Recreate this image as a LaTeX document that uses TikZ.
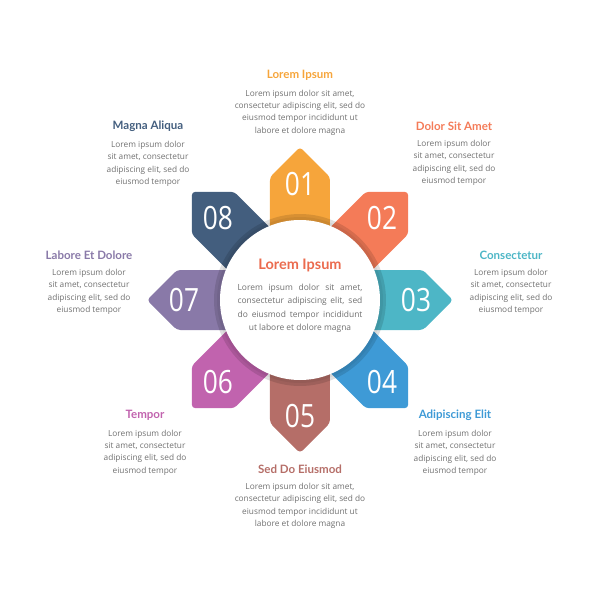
\documentclass[tikz,border=0pt]{standalone}
\usepackage{fontspec}
\setmainfont{Open Sans}
\newfontfamily\headfont{Lato}
\usepackage{tikz}
\usepackage{xcolor}
\usetikzlibrary{calc,positioning}

\definecolor{cone}{HTML}{F6A53B}
\definecolor{ctwo}{HTML}{F47B58}
\definecolor{cthree}{HTML}{4DB6C6}
\definecolor{cfour}{HTML}{3E9AD6}
\definecolor{cfive}{HTML}{B56E68}
\definecolor{csix}{HTML}{C163AE}
\definecolor{cseven}{HTML}{8979A8}
\definecolor{ceight}{HTML}{435E7E}
\definecolor{ccenter}{HTML}{EB6B4E}
\definecolor{bodygray}{HTML}{707070}

\tikzset{
  petal/.style={rounded corners=2.5},
  numlabel/.style={text=white, inner sep=0, font=\fontsize{22.8}{24}\selectfont},
  headline/.style={inner sep=0, font=\headfont\bfseries\fontsize{8.2}{9}\selectfont},
  bodytext/.style={inner sep=0, text=bodygray, align=center, font=\fontsize{5.9}{8.8}\selectfont},
}

\begin{document}
\begin{tikzpicture}[x=0.025cm, y=0.025cm]
\useasboundingbox (-300,-300) rectangle (300,300);
% petals
\fill[petal, cone, rotate=0] (-30,60) -- (-30,123) -- (0,153) -- (30,123) -- (30,60) -- cycle;
\fill[petal, ctwo, rotate=-45] (-30,60) -- (-30,123) -- (0,153) -- (30,123) -- (30,60) -- cycle;
\fill[petal, cthree, rotate=-90] (-30,60) -- (-30,123) -- (0,153) -- (30,123) -- (30,60) -- cycle;
\fill[petal, cfour, rotate=-135] (-30,60) -- (-30,123) -- (0,153) -- (30,123) -- (30,60) -- cycle;
\fill[petal, cfive, rotate=180] (-30,60) -- (-30,123) -- (0,153) -- (30,123) -- (30,60) -- cycle;
\fill[petal, csix, rotate=135] (-30,60) -- (-30,123) -- (0,153) -- (30,123) -- (30,60) -- cycle;
\fill[petal, cseven, rotate=90] (-30,60) -- (-30,123) -- (0,153) -- (30,123) -- (30,60) -- cycle;
\fill[petal, ceight, rotate=45] (-30,60) -- (-30,123) -- (0,153) -- (30,123) -- (30,60) -- cycle;
% center circle with its shadow ring
\fill[black, opacity=0.12] (0,0) circle (86);
\fill[black, opacity=0.05] (0,0) circle (83);
\fill[white] (0,0) circle (80);
% numbers
\node[numlabel] (n01) at (90:116) {\scalebox{0.82}[1]{01}};
\node[numlabel] (n02) at (45:116) {\scalebox{0.82}[1]{02}};
\node[numlabel] (n03) at (0:116) {\scalebox{0.82}[1]{03}};
\node[numlabel] (n04) at (-45:116) {\scalebox{0.82}[1]{04}};
\node[numlabel] (n05) at (-90:116) {\scalebox{0.82}[1]{05}};
\node[numlabel] (n06) at (-135:116) {\scalebox{0.82}[1]{06}};
\node[numlabel] (n07) at (180:116) {\scalebox{0.82}[1]{07}};
\node[numlabel] (n08) at (135:116) {\scalebox{0.82}[1]{08}};
% center text
\node[headline, text=ccenter, font=\headfont\bfseries\fontsize{10.3}{11}\selectfont] (ctitle) at (0,35) {Lorem Ipsum};
\node[bodytext, below=8.5pt of ctitle, font=\fontsize{6}{9.5}\selectfont] (cbody)
  {\makebox[3.12cm][s]{Lorem ipsum dolor sit amet,}\\
   \makebox[3.12cm][s]{consectetur adipiscing elit, sed}\\
   \makebox[3.12cm][s]{do eiusmod tempor incididunt}\\
   ut labore et dolore magna};
% outer labels
\node[headline, text=cone] (t01) at (0,225) {Lorem Ipsum};
\node[bodytext, below=6.5pt of t01] (b01) {Lorem ipsum dolor sit amet,\\consectetur adipiscing elit, sed do\\eiusmod tempor incididunt ut\\labore et dolore magna};
\node[headline, text=ctwo] (t02) at (154,174) {Dolor Sit Amet};
\node[bodytext, below=6.5pt of t02] (b02) {Lorem ipsum dolor\\sit amet, consectetur\\adipiscing elit, sed do\\eiusmod tempor};
\node[headline, text=cthree] (t03) at (211,45) {Consectetur};
\node[bodytext, below=6.5pt of t03] (b03) {Lorem ipsum dolor\\sit amet, consectetur\\adipiscing elit, sed do\\eiusmod tempor};
\node[headline, text=cfour] (t04) at (155,-115) {Adipiscing Elit};
\node[bodytext, below=6.5pt of t04] (b04) {Lorem ipsum dolor\\sit amet, consectetur\\adipiscing elit, sed do\\eiusmod tempor};
\node[headline, text=cfive] (t05) at (0,-169) {Sed Do Eiusmod};
\node[bodytext, below=6.5pt of t05] (b05) {Lorem ipsum dolor sit amet,\\consectetur adipiscing elit, sed do\\eiusmod tempor incididunt ut\\labore et dolore magna};
\node[headline, text=csix] (t06) at (-155,-115) {Tempor};
\node[bodytext, below=6.5pt of t06] (b06) {Lorem ipsum dolor\\sit amet, consectetur\\adipiscing elit, sed do\\eiusmod tempor};
\node[headline, text=cseven] (t07) at (-211,45) {Labore Et Dolore};
\node[bodytext, below=6.5pt of t07] (b07) {Lorem ipsum dolor\\sit amet, consectetur\\adipiscing elit, sed do\\eiusmod tempor};
\node[headline, text=ceight] (t08) at (-152,174) {Magna Aliqua};
\node[bodytext, below=6.5pt of t08] (b08) {Lorem ipsum dolor\\sit amet, consectetur\\adipiscing elit, sed do\\eiusmod tempor};
\end{tikzpicture}
\end{document}
